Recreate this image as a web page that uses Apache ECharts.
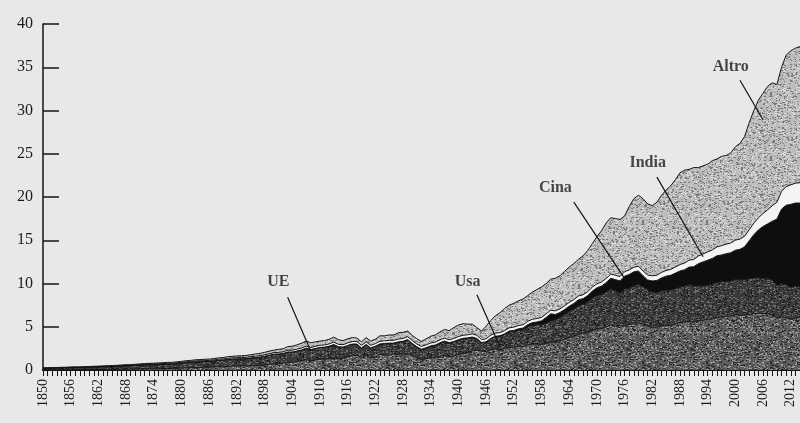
<!DOCTYPE html>
<html>
<head>
<meta charset="utf-8">
<script src="https://cdn.jsdelivr.net/npm/echarts@6/dist/echarts.min.js"></script>
<style>
  html, body { margin: 0; padding: 0; background: #e8e8e6; }
  #chart { width: 800px; height: 423px; }
</style>
</head>
<body>
<div id="chart"></div>
<script>
// miliardi di tonnellate di CO2, 1850-2014
const years = [];
for (let y = 1850; y <= 2014; y++) years.push(String(y));

const usa = [
  0.02,0.02,0.02,0.03,0.03,0.03,0.04,0.04,0.04,0.05,
  0.05,0.05,0.06,0.06,0.07,0.07,0.08,0.09,0.10,0.10,
  0.11,0.12,0.13,0.14,0.14,0.15,0.16,0.17,0.18,0.20,
  0.22,0.25,0.27,0.29,0.30,0.31,0.32,0.35,0.38,0.38,
  0.42,0.44,0.47,0.48,0.45,0.50,0.52,0.54,0.60,0.66,
  0.72,0.76,0.80,0.90,0.90,0.98,1.05,1.20,1.05,1.15,
  1.25,1.25,1.32,1.40,1.30,1.35,1.50,1.65,1.70,1.45,
  1.70,1.40,1.50,1.80,1.70,1.75,1.85,1.80,1.85,1.95,
  1.65,1.40,1.20,1.30,1.40,1.45,1.60,1.70,1.50,1.60,
  1.80,1.95,2.05,2.20,2.30,2.20,2.10,2.35,2.45,2.35,
  2.50,2.65,2.65,2.75,2.70,2.90,3.00,3.00,2.95,3.05,
  3.20,3.25,3.40,3.55,3.75,3.90,4.10,4.25,4.40,4.60,
  4.75,4.80,5.00,5.20,5.05,4.90,5.15,5.25,5.40,5.45,
  5.30,5.15,4.95,4.95,5.10,5.15,5.15,5.30,5.50,5.55,
  5.60,5.55,5.65,5.75,5.85,5.90,6.05,6.15,6.20,6.25,
  6.40,6.30,6.35,6.40,6.50,6.55,6.50,6.55,6.40,6.00,
  6.15,6.05,5.85,6.00,6.05
];

const ue = [
  0.17,0.18,0.19,0.20,0.21,0.22,0.23,0.24,0.24,0.25,
  0.27,0.28,0.29,0.30,0.32,0.33,0.34,0.36,0.37,0.38,
  0.40,0.42,0.45,0.46,0.45,0.48,0.49,0.50,0.50,0.52,
  0.55,0.58,0.60,0.63,0.64,0.65,0.66,0.68,0.72,0.75,
  0.78,0.80,0.80,0.80,0.84,0.87,0.90,0.93,0.96,1.02,
  1.08,1.07,1.08,1.15,1.15,1.18,1.24,1.30,1.28,1.30,
  1.32,1.36,1.40,1.50,1.35,1.25,1.30,1.30,1.25,1.05,
  1.20,1.10,1.20,1.15,1.30,1.30,1.20,1.40,1.40,1.50,
  1.35,1.20,1.12,1.20,1.30,1.35,1.45,1.55,1.55,1.60,
  1.60,1.60,1.55,1.50,1.25,0.90,1.10,1.25,1.40,1.55,
  1.60,1.75,1.80,1.85,1.95,2.10,2.20,2.25,2.25,2.35,
  2.45,2.55,2.70,2.90,3.05,3.15,3.30,3.35,3.50,3.70,
  3.85,3.90,4.00,4.20,4.10,3.95,4.20,4.20,4.30,4.45,
  4.30,4.15,4.05,4.00,4.05,4.10,4.10,4.10,4.10,4.15,
  4.30,4.20,4.10,4.00,3.95,4.00,4.10,4.05,4.05,4.00,
  4.05,4.10,4.10,4.15,4.15,4.15,4.10,4.05,4.00,3.75,
  3.85,3.80,3.70,3.70,3.55
];

const cina = [
  0.01,0.01,0.01,0.01,0.01,0.01,0.01,0.01,0.01,0.01,
  0.01,0.01,0.01,0.01,0.01,0.01,0.01,0.01,0.01,0.01,
  0.01,0.01,0.01,0.01,0.01,0.01,0.01,0.01,0.01,0.01,
  0.01,0.01,0.01,0.01,0.01,0.01,0.01,0.01,0.01,0.01,
  0.01,0.01,0.01,0.01,0.01,0.01,0.01,0.01,0.01,0.01,
  0.01,0.01,0.01,0.02,0.02,0.02,0.02,0.02,0.03,0.03,
  0.03,0.03,0.03,0.04,0.04,0.04,0.04,0.05,0.05,0.05,
  0.05,0.05,0.05,0.06,0.06,0.06,0.06,0.06,0.07,0.07,
  0.07,0.08,0.08,0.08,0.09,0.09,0.10,0.10,0.10,0.10,
  0.11,0.11,0.12,0.11,0.10,0.07,0.06,0.06,0.05,0.06,
  0.08,0.10,0.13,0.16,0.20,0.24,0.27,0.30,0.48,0.68,
  0.85,0.62,0.55,0.55,0.58,0.65,0.72,0.65,0.70,0.82,
  0.90,1.00,1.10,1.20,1.30,1.45,1.50,1.60,1.65,1.55,
  1.30,1.10,1.30,1.40,1.50,1.60,1.70,1.80,1.85,1.90,
  2.00,2.20,2.55,2.75,2.90,3.00,3.05,3.10,3.20,3.30,
  3.40,3.55,3.80,4.40,5.00,5.50,6.00,6.30,6.80,7.70,
  8.60,9.20,9.60,9.60,9.70
];

const india = [
  0.02,0.02,0.02,0.02,0.03,0.03,0.03,0.03,0.03,0.04,
  0.04,0.04,0.04,0.05,0.05,0.05,0.05,0.06,0.06,0.06,
  0.06,0.07,0.07,0.07,0.08,0.08,0.08,0.09,0.09,0.09,
  0.10,0.10,0.10,0.11,0.11,0.12,0.12,0.12,0.13,0.13,
  0.14,0.14,0.15,0.15,0.16,0.16,0.17,0.17,0.18,0.18,
  0.19,0.20,0.20,0.21,0.22,0.22,0.23,0.24,0.24,0.25,
  0.26,0.26,0.27,0.28,0.28,0.28,0.29,0.29,0.30,0.30,
  0.30,0.30,0.30,0.31,0.31,0.32,0.32,0.32,0.33,0.33,
  0.33,0.32,0.32,0.32,0.33,0.33,0.34,0.34,0.34,0.35,
  0.35,0.35,0.36,0.36,0.36,0.35,0.35,0.36,0.36,0.37,
  0.37,0.37,0.38,0.38,0.38,0.39,0.39,0.40,0.40,0.41,
  0.41,0.42,0.42,0.43,0.43,0.44,0.44,0.45,0.45,0.46,
  0.46,0.47,0.48,0.49,0.50,0.50,0.51,0.52,0.53,0.54,
  0.55,0.57,0.59,0.61,0.63,0.65,0.68,0.71,0.74,0.77,
  0.80,0.84,0.88,0.91,0.95,0.99,1.03,1.07,1.10,1.13,
  1.16,1.19,1.22,1.27,1.33,1.40,1.50,1.62,1.80,1.95,
  2.05,2.15,2.25,2.30,2.35
];

const altro = [
  0.02,0.02,0.03,0.03,0.03,0.03,0.04,0.04,0.04,0.04,
  0.04,0.05,0.05,0.05,0.05,0.06,0.06,0.06,0.07,0.07,
  0.08,0.08,0.09,0.09,0.10,0.10,0.10,0.11,0.11,0.12,
  0.12,0.13,0.13,0.14,0.14,0.15,0.15,0.16,0.16,0.17,
  0.18,0.19,0.20,0.21,0.22,0.23,0.25,0.27,0.29,0.31,
  0.30,0.34,0.36,0.42,0.46,0.50,0.56,0.59,0.55,0.52,
  0.49,0.50,0.53,0.58,0.53,0.48,0.47,0.46,0.40,0.40,
  0.50,0.50,0.50,0.63,0.58,0.62,0.62,0.72,0.70,0.65,
  0.60,0.60,0.58,0.70,0.78,0.83,0.91,1.00,1.06,1.25,
  1.34,1.34,1.22,1.13,0.89,0.98,1.45,1.70,2.00,2.30,
  2.55,2.63,2.74,2.86,2.97,2.97,3.14,3.35,3.52,3.51,
  3.59,3.76,3.83,3.97,4.09,4.16,4.24,4.50,4.75,5.02,
  5.44,5.93,6.42,6.51,6.55,6.60,6.44,7.33,7.92,8.21,
  8.35,8.23,8.11,8.44,8.92,9.30,9.67,10.09,10.61,10.73,
  10.50,10.61,10.22,10.19,10.15,10.31,10.17,10.33,10.25,10.42,
  10.79,11.06,11.53,12.38,13.02,13.60,13.90,14.28,14.20,13.60,
  14.35,15.20,15.50,15.60,15.75
];

// etichette e linee di richiamo, in coordinate dei dati
const labelNames = ['UE', 'Usa', 'Cina', 'India', 'Altro'];
const labelAt = [['1901', 10.2], ['1942', 10.2], ['1961', 21.0], ['1981', 23.9], ['1999', 35.0]];
const leaderFrom = [['1903', 8.4], ['1944', 8.7], ['1965', 19.4], ['1983', 22.3], ['2001', 33.5]];
const leaderTo = [['1908', 2.2], ['1949', 2.7], ['1976', 10.6], ['1993', 13.1], ['2006', 28.9]];

const serif = 'Liberation Serif';
const ink = '#151515';

// grana della stampa: retino fisso, generato in modo deterministico
const grain = (base, specks, seed) => {
  const size = 64, c = document.createElement('canvas');
  c.width = c.height = size;
  const ctx = c.getContext('2d');
  ctx.fillStyle = base;
  ctx.fillRect(0, 0, size, size);
  let s = seed;
  const next = () => (s = (s * 16807) % 2147483647);
  specks.forEach(([color, count]) => {
    ctx.fillStyle = color;
    for (let i = 0; i < count; i++) {
      const x = next() % size, y = next() % size, w = 1 + (next() % 2);
      ctx.fillRect(x, y, w, 1);
    }
  });
  return { image: c, repeat: 'repeat' };
};

const layer = (name, data, fill) => ({
  name,
  type: 'line',
  stack: 'tot',
  data,
  symbol: 'none',
  lineStyle: { color: ink, width: 1 },
  areaStyle: { color: fill, opacity: 1 },
  z: 2
});

const chart = echarts.init(document.getElementById('chart'), null, { renderer: 'canvas' });

chart.setOption({
  animation: false,
  backgroundColor: '#e8e8e6',
  grid: { left: 43, right: 0, top: 24, bottom: 53 },
  xAxis: {
    type: 'category',
    data: years,
    boundaryGap: false,
    axisLine: { lineStyle: { color: ink, width: 2 } },
    axisTick: { show: true, interval: 0, length: 6, lineStyle: { color: ink, width: 1 } },
    axisLabel: {
      interval: 5, rotate: 90, margin: 9,
      fontFamily: serif, fontSize: 14, color: '#1c1c1c'
    },
    splitLine: { show: false }
  },
  yAxis: {
    type: 'value',
    min: 0, max: 40, interval: 5,
    axisLine: { show: true, lineStyle: { color: ink, width: 1.5 } },
    axisTick: { show: true, inside: true, length: 16, lineStyle: { color: ink, width: 1.5 } },
    axisLabel: { margin: 10, fontFamily: serif, fontSize: 16, color: '#1c1c1c' },
    splitLine: { show: false }
  },
  series: [
    layer('Usa', usa, grain('#5e5e5e', [['#9a9a9a', 700], ['#2c2c2c', 600]], 11)),
    layer('UE', ue, grain('#3a3a3a', [['#6e6e6e', 650], ['#1a1a1a', 400]], 23)),
    layer('Cina', cina, '#0e0e0e'),
    layer('India', india, '#f3f3f1'),
    layer('Altro', altro, grain('#bcbcba', [['#7a7a7a', 650], ['#dcdcda', 400]], 37)),
    {
      type: 'lines',
      coordinateSystem: 'cartesian2d',
      z: 5,
      lineStyle: { color: ink, width: 1.2, opacity: 1 },
      data: labelNames.map((n, i) => ({ coords: [leaderFrom[i], leaderTo[i]] }))
    },
    {
      type: 'scatter',
      z: 6,
      symbolSize: 0,
      data: labelNames.map((n, i) => ({ name: n, value: labelAt[i] })),
      label: {
        show: true, position: 'inside', formatter: '{b}',
        fontFamily: serif, fontSize: 16, fontWeight: 'bold', color: '#1a1a1a'
      }
    }
  ]
});
</script>
</body>
</html>
